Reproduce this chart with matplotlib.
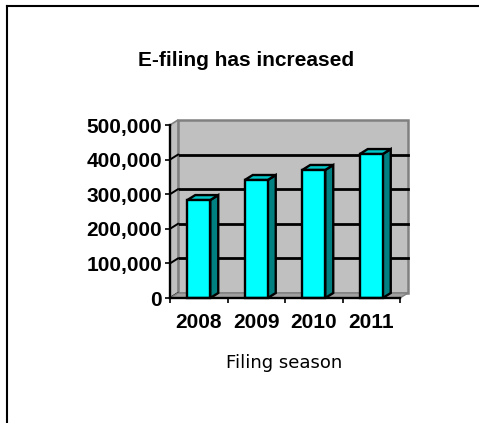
import matplotlib
matplotlib.use("Agg")
import matplotlib.pyplot as plt
import matplotlib.transforms as mtransforms
from matplotlib.patches import Polygon, Rectangle
from matplotlib.lines import Line2D
from matplotlib.ticker import FuncFormatter

# data
years = ["2008", "2009", "2010", "2011"]
efilings = [283000, 341000, 370000, 416000]
y_ticks = [0, 100000, 200000, 300000, 400000, 500000]

W, H = 479, 423
DEPTH = (8, 5)  # pixel offset of the back wall (fake 3D)

fig = plt.figure(figsize=(W / 100, H / 100), dpi=100)
fig.patch.set_facecolor("white")

# outer frame (only left and top edges are visible)
fig.add_artist(Line2D([7 / W, 7 / W], [0, 1 - 6 / H], color="black", lw=1.5))
fig.add_artist(Line2D([7 / W, 1], [1 - 6 / H, 1 - 6 / H], color="black", lw=1.5))

ax = fig.add_axes([170 / W, (H - 298) / H, 230 / W, 173 / H])
ax.set_xlim(-0.5, 3.5)
ax.set_ylim(0, 500000)
ax.patch.set_visible(False)

back = ax.transData + mtransforms.Affine2D().translate(*DEPTH)
ident = mtransforms.IdentityTransform()


def front(x, y):
    return ax.transData.transform((x, y))


def rear(x, y):
    return back.transform((x, y))


# back wall and its gridlines
ax.add_patch(Rectangle((-0.5, 0), 4, 500000, transform=back, facecolor="#C0C0C0",
                       edgecolor="#808080", lw=1.8, zorder=0, clip_on=False))
for v in y_ticks[1:-1]:
    ax.plot([-0.5, 3.5], [v, v], transform=back, color="black", lw=2.0,
            zorder=1, clip_on=False)

# left side wall and floor
side = [front(-0.5, 0), front(-0.5, 500000), rear(-0.5, 500000), rear(-0.5, 0)]
ax.add_patch(Polygon(side, closed=True, transform=ident, facecolor="#C0C0C0",
                     edgecolor="#808080", lw=1.2, zorder=1, clip_on=False))
for v in y_ticks:
    p, q = front(-0.5, v), rear(-0.5, v)
    ax.add_artist(Line2D([p[0], q[0]], [p[1], q[1]], transform=ident,
                         color="black", lw=1.4, zorder=1.2))
floor = [front(-0.5, 0), front(3.5, 0), rear(3.5, 0), rear(-0.5, 0)]
ax.add_patch(Polygon(floor, closed=True, transform=ident, facecolor="#A0A0A0",
                     edgecolor="#808080", lw=1.0, zorder=1.5, clip_on=False))
p, q = front(3.5, 0), rear(3.5, 0)
ax.add_artist(Line2D([p[0], q[0]], [p[1], q[1]], transform=ident,
                     color="black", lw=1.6, zorder=4))

# bars: front faces, then the side and top faces
bw = 0.4
xs = list(range(len(years)))
ax.bar(xs, efilings, width=bw, color="#00FFFF", edgecolor="black", lw=1.7,
       zorder=3, clip_on=False)
for x, v in zip(xs, efilings):
    r = x + bw / 2
    l = x - bw / 2
    side_face = [front(r, 0), front(r, v), rear(r, v), rear(r, 0)]
    top_face = [front(l, v), front(r, v), rear(r, v), rear(l, v)]
    ax.add_patch(Polygon(side_face, closed=True, transform=ident, facecolor="#008080",
                         edgecolor="black", lw=1.7, zorder=2.8))
    ax.add_patch(Polygon(top_face, closed=True, transform=ident, facecolor="#00C8C8",
                         edgecolor="black", lw=1.7, zorder=2.9))

# axes
for s in ["top", "right"]:
    ax.spines[s].set_visible(False)
for s in ["left", "bottom"]:
    ax.spines[s].set_linewidth(1.7)
    ax.spines[s].set_zorder(5)

lab_font = dict(family="Liberation Sans", weight="bold", size=15)
ax.set_yticks(y_ticks)
ax.yaxis.set_major_formatter(FuncFormatter(lambda v, _: f"{int(v):,}"))
ax.tick_params(axis="y", direction="out", length=3.6, width=1.2, pad=2)
ax.set_xticks(xs)
ax.set_xticklabels(years)
ax.set_xticks([-0.5, 0.5, 1.5, 2.5, 3.5], minor=True)
ax.tick_params(axis="x", which="major", length=0, pad=11)
ax.tick_params(axis="x", which="minor", direction="out", length=3.6, width=1.2)
for t in ax.get_xticklabels() + ax.get_yticklabels():
    t.set_fontproperties(lab_font)

fig.text(246 / W, 1 - 60 / H, "E-filing has increased", ha="center", va="center",
         family="Liberation Sans", weight="bold", size=15)
fig.text(284 / W, 1 - 363 / H, "Filing season", ha="center", va="center",
         family="DejaVu Sans", size=13)

fig.savefig("out.png", dpi=100)
